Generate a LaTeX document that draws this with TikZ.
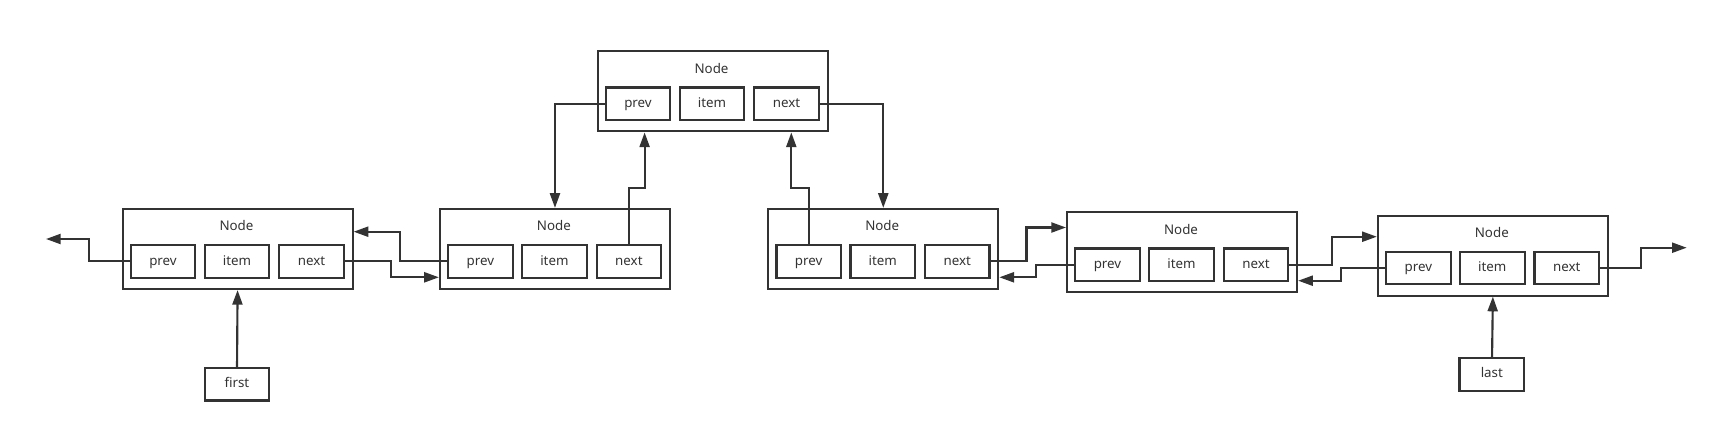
\documentclass[tikz,border=0pt]{standalone}
\usepackage{fontspec}
\setmainfont{Noto Sans}
\usetikzlibrary{arrows.meta,calc}
\definecolor{ink}{HTML}{333333}
\tikzset{
  outerbox/.style={draw=ink, line width=1.6pt, minimum width=172.5pt, minimum height=60pt, inner sep=0pt},
  cellbox/.style={draw=ink, line width=1.6pt, minimum width=48.4pt, minimum height=24.4pt, inner sep=0pt, text=ink, text height=7.6pt, text depth=2.2pt, font=\fontsize{10pt}{12pt}\selectfont},
  titletext/.style={text=ink, inner sep=0pt, font=\fontsize{10pt}{12pt}\selectfont},
  arr/.style={draw=ink, line width=1.6pt, -{Triangle[length=11pt,width=7.5pt]}},
}
\newcommand\dlnode[3]{%
  \node[outerbox, anchor=north west] (#1) at (#2,#3) {};
  \node[titletext] (#1-t) at ($(#1.north west)+(115,18)$) {Node};
  \node[cellbox] (#1-p) at ($(#1.north west)+(41.5,53.5)$) {prev};
  \node[cellbox] (#1-i) at ($(#1.north west)+(115.5,53.5)$) {item};
  \node[cellbox] (#1-n) at ($(#1.north west)+(190,53.5)$) {next};
}
\begin{document}
\begin{tikzpicture}[x=0.75pt, y=-0.75pt]
\useasboundingbox (0,0) rectangle (1716,432);
\dlnode{N1}{121.5}{207.9}
\dlnode{N2}{438.9}{207.9}
\dlnode{N3}{596.5}{50.3}
\dlnode{N4}{767.2}{207.9}
\dlnode{N5}{1066}{211.2}
\dlnode{N6}{1376.8}{214.5}
\node[cellbox] (first) at (236.9,384.2) {first};
\node[cellbox] (last) at (1491.8,374.3) {last};
% bend points and free ends
\coordinate (lbend) at (89.3,239);
\coordinate (lend) at (46,239);
\coordinate (bA) at (391,277.3);
\coordinate (bB) at (400,231.7);
\coordinate (bC) at (644.6,188.2);
\coordinate (bD) at (791.3,188.2);
\coordinate (bE) at (1026.5,227.5);
\coordinate (bF) at (1036.4,277.3);
\coordinate (bG) at (1332.3,236.7);
\coordinate (bH) at (1341,280.7);
\coordinate (bI) at (1640.7,247.7);
\coordinate (rend) at (1686.7,247.7);
% connectors
\draw[arr] (N1-p.west) -| (lbend) -- (lend);
\draw[arr] (N1-n.east) -| (bA) -- (bA -| N2.west);
\draw[arr] (N2-p.west) -| (bB) -- (bB -| N1.east);
\draw[arr] (N2-n.north) |- (bC) -- (bC |- N3.south);
\draw[arr] (N3-p.west) -| (N2.north);
\draw[arr] (N3-n.east) -| (N4.north);
\draw[arr] (N4-p.north) |- (bD) -- (bD |- N3.south);
\draw[arr] (N4-n.east) -| (bE) -- (bE -| N5.west);
\draw[arr] (N5-p.west) -| (bF) -- (bF -| N4.east);
\draw[arr] (N5-n.east) -| (bG) -- (bG -| N6.west);
\draw[arr] (N6-p.west) -| (bH) -- (bH -| N5.east);
\draw[arr] (N6-n.east) -| (bI) -- (rend);
\draw[arr] (first) -- (N1.south);
\draw[arr] (last) -- (N6.south);
\end{tikzpicture}
\end{document}
